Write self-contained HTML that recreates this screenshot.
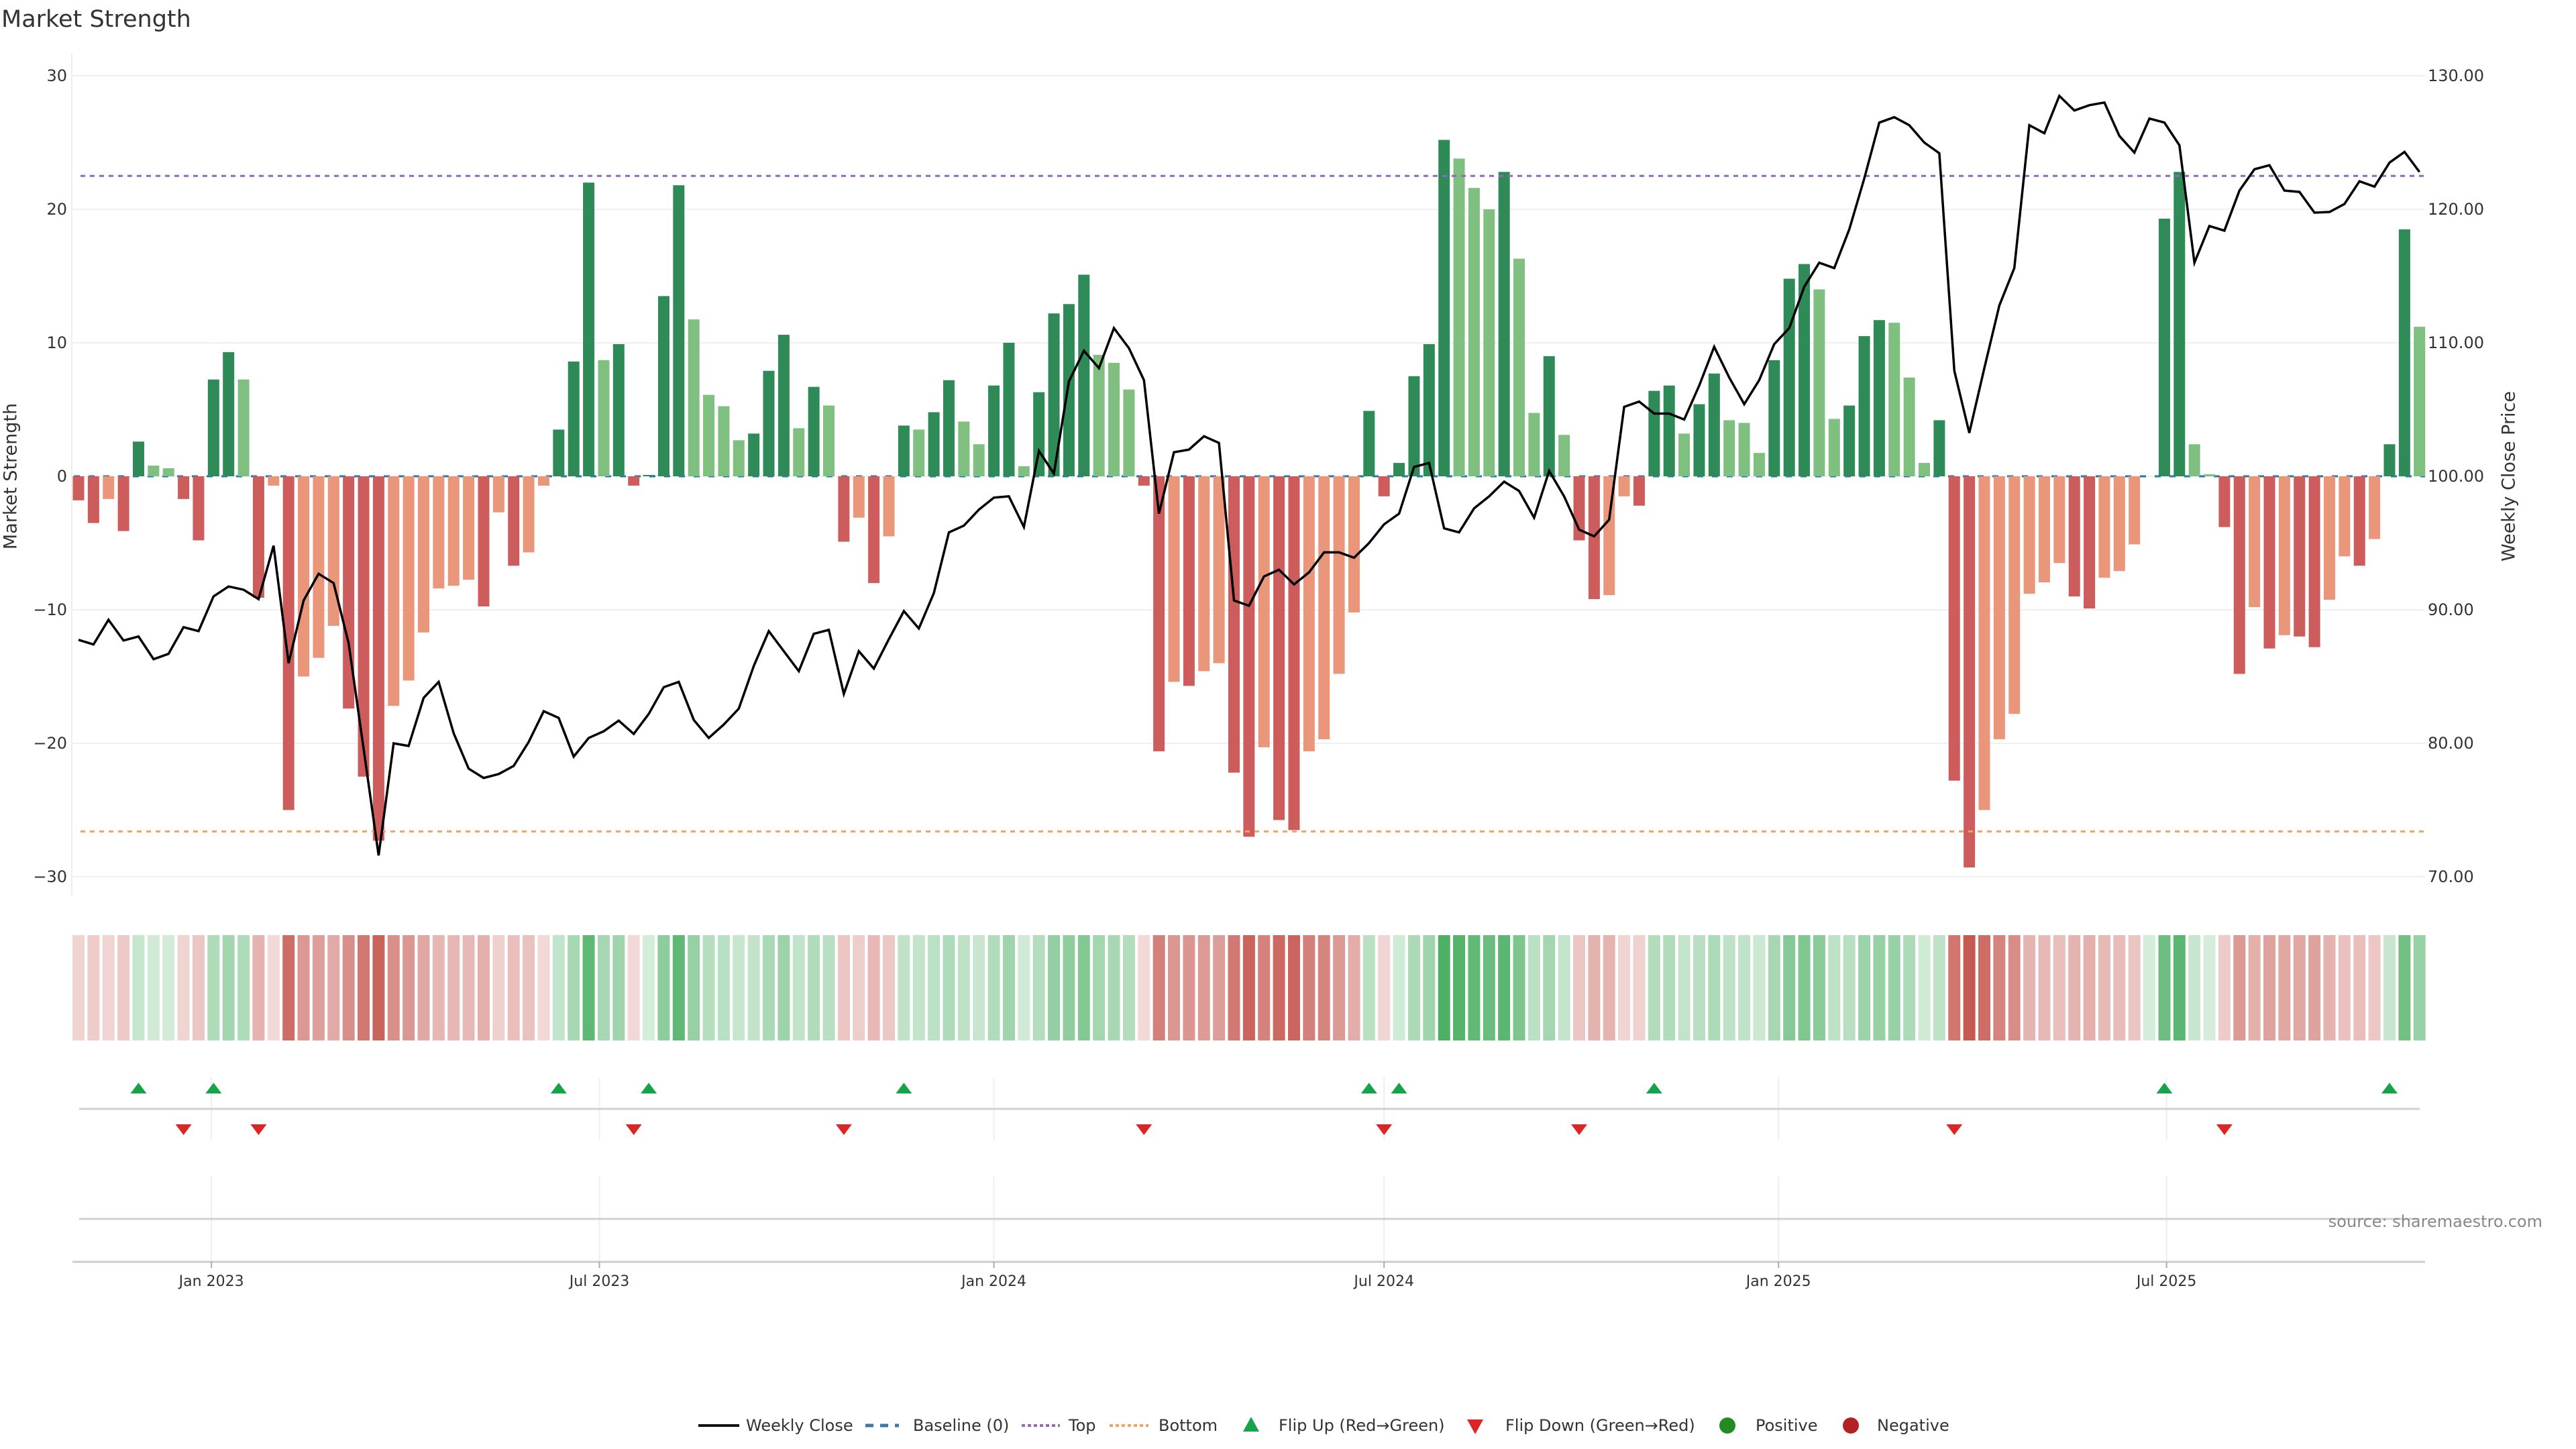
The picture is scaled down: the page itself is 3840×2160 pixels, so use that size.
<!DOCTYPE html>
<html><head><meta charset="utf-8"><title>Market Strength</title>
<style>
html,body{margin:0;padding:0;background:#fff;}
svg{display:block;font-family:"DejaVu Sans","Liberation Sans",sans-serif;}
</style></head>
<body>
<svg id="chart" xmlns="http://www.w3.org/2000/svg" width="3840" height="2160" viewBox="0 0 3840 2160">
<rect x="0" y="0" width="3840" height="2160" fill="#fff"/>
<text x="2" y="40" font-size="35" fill="#333">Market Strength</text>
<g id="main"></g>
<g id="heat"></g>
<g id="sig"></g>
<g id="xaxis"></g>
<text x="17" y="710" font-size="27" fill="#333" text-anchor="middle" transform="rotate(-90 17 710)" dominant-baseline="middle">Market Strength</text>
<text x="3741" y="710" font-size="27" fill="#333" text-anchor="middle" transform="rotate(-90 3741 710)" dominant-baseline="middle">Weekly Close Price</text>
<text x="3790" y="1829" font-size="24" fill="#888" text-anchor="end">source: sharemaestro.com</text>
<g id="legend"></g>
</svg>
<script>
const startDate = '2022-10-31';
const strength = [-1.8,-3.5,-1.7,-4.1,2.6,0.8,0.6,-1.7,-4.8,7.25,9.3,7.25,-9.1,-0.7,-25,-15,-13.6,-11.2,-17.4,-22.5,-27.3,-17.2,-15.3,-11.7,-8.4,-8.2,-7.75,-9.75,-2.7,-6.7,-5.7,-0.7,3.5,8.6,22,8.7,9.9,-0.7,0.1,13.5,
21.8,11.75,6.1,5.25,2.7,3.2,7.9,10.6,3.6,6.7,5.3,-4.9,-3.1,-8,-4.5,3.8,3.5,4.8,7.2,4.1,2.4,6.8,10,0.75,6.3,12.2,12.9,15.1,9.1,8.5,6.5,-0.7,-20.6,-15.4,-15.7,-14.6,-14,-22.2,-27,
-20.3,-25.75,-26.5,-20.6,-19.7,-14.8,-10.2,4.9,-1.5,1,7.5,9.9,25.2,23.8,21.6,20,22.8,16.3,4.75,9,3.1,-4.8,-9.2,-8.9,-1.5,-2.2,6.4,6.8,3.2,5.4,7.7,4.2,4,1.75,8.7,14.8,15.9,14,4.3,5.3,
10.5,11.7,11.5,7.4,1,4.2,-22.8,-29.3,-25,-19.7,-17.8,-8.8,-7.95,-6.5,-9,-9.9,-7.6,-7.1,-5.1,0,19.3,22.8,2.4,0.15,-3.8,-14.8,-9.8,-12.9,-11.9,-12,-12.8,-9.25,-6,-6.7,-4.7,2.4,18.5,11.2];
const weeklyClose = [87.75,87.4,89.25,87.7,88,86.3,86.7,88.7,88.4,91,91.75,91.5,90.8,94.8,86,90.7,92.7,92,87.5,79.6,71.6,80,79.8,83.4,84.6,80.75,78.1,77.4,77.7,78.3,80.1,82.4,81.9,79,80.4,80.9,81.7,80.7,82.2,84.2,
84.6,81.75,80.4,81.4,82.6,85.8,88.4,86.9,85.4,88.2,88.5,83.7,86.9,85.6,87.8,89.9,88.6,91.25,95.8,96.3,97.5,98.4,98.5,96.2,101.9,100.2,107.1,109.4,108.1,111.1,109.6,107.2,97.2,101.8,102,103,102.5,90.7,90.3,
92.5,93,91.9,92.8,94.3,94.3,93.9,95,96.4,97.2,100.7,101,96.1,95.8,97.6,98.5,99.6,98.9,96.9,100.4,98.5,96,95.5,96.75,105.2,105.6,104.7,104.7,104.25,106.8,109.7,107.4,105.4,107.2,109.9,111.1,114.2,116,115.6,118.5,
122.3,126.5,126.9,126.3,125,124.2,107.9,103.25,108.1,112.8,115.6,126.3,125.7,128.5,127.4,127.8,128,125.5,124.25,126.8,126.5,124.8,116,118.75,118.4,121.4,123,123.3,121.4,121.3,119.75,119.8,120.4,122.1,121.7,123.5,124.3,122.8];
const topLevel = 22.5;
const bottomLevel = -26.6;
const leftTicks = [30,20,10,0,-10,-20,-30];
const leftTickLabels = ['30','20','10','0','\u221210','\u221220','\u221230'];
const rightTicks = [130,120,110,100,90,80,70];
const rightTickLabels = ['130.00','120.00','110.00','100.00','90.00','80.00','70.00'];
const xTickDates = ['2023-01-01','2023-07-01','2024-01-01','2024-07-01','2025-01-01','2025-07-01'];
const xTickLabels = ['Jan 2023','Jul 2023','Jan 2024','Jul 2024','Jan 2025','Jul 2025'];

const NS='http://www.w3.org/2000/svg';
function mk(parent,tag,attrs){const e=document.createElementNS(NS,tag);for(const k in attrs)e.setAttribute(k,attrs[k]);parent.appendChild(e);return e;}
const X0=117, STEP=22.37, BW=17;
const xIdx=i=>X0+i*STEP;
const t0=Date.parse(startDate);
const xDate=d=>X0+(Date.parse(d)-t0)/86400000/7*STEP;
const Y0=710, YS=19.9;
const yS=v=>Y0-v*YS;
const yP=p=>Y0-(p-100)*YS;
const PL=107, PR=3615;

const main=document.getElementById('main');
let e=mk(main,'line',{x1:PL,y1:80,x2:PL,y2:1335,stroke:'#eee','stroke-width':2});


leftTicks.forEach((v,i)=>{
  const g=mk(main,'line',{x1:PL,y1:yS(v),x2:PR,y2:yS(v),stroke:'#eef0f2','stroke-width':2});
  
  
  const t=mk(main,'text',{x:100,y:yS(v)+8,'font-size':24,fill:'#333','text-anchor':'end'});
  t.textContent=leftTickLabels[i];
  
  
});
rightTicks.forEach((v,i)=>{
  const t=mk(main,'text',{x:3619,y:yP(v)+8,'font-size':24,fill:'#333'});
  t.textContent=rightTickLabels[i];
  
  
});
e=mk(main,'line',{x1:110,y1:Y0,x2:PR,y2:Y0,stroke:'#1f77b4','stroke-width':3,'stroke-dasharray':'9 13'});


strength.forEach((v,i)=>{
  const prev=i>0?strength[i-1]:0;
  const strong=(Math.sign(v)!==Math.sign(prev))||Math.abs(v)>Math.abs(prev);
  const col=v>=0?(strong?'#2e8b57':'#7fbf7f'):(strong?'#cd5c5c':'#e9967a');
  const y1=Math.min(yS(v),Y0), h=Math.abs(yS(v)-Y0);
  if(h<0.5)return;
  const r=mk(main,'rect',{x:xIdx(i)-BW/2,y:y1,width:BW,height:h,fill:col});
  
  
});
e=mk(main,'line',{x1:120,y1:yS(topLevel),x2:PR,y2:yS(topLevel),stroke:'#9467bd','stroke-width':3,'stroke-dasharray':'7 7'});


e=mk(main,'line',{x1:120,y1:yS(bottomLevel),x2:PR,y2:yS(bottomLevel),stroke:'#f4a460','stroke-width':3,'stroke-dasharray':'7 7'});


e=mk(main,'polyline',{points:weeklyClose.map((p,i)=>xIdx(i).toFixed(1)+','+yP(p).toFixed(1)).join(' '),fill:'none',stroke:'#000','stroke-width':3.5,'stroke-linejoin':'miter'});



const heat=document.getElementById('heat');
strength.forEach((v,i)=>{
  const a=0.2+0.75*Math.min(1,Math.abs(v)/30);
  const b=v>=0?[42,160,70]:[194,78,69];
  const c=b.map(k=>Math.round(255-(255-k)*a));
  const r=mk(heat,'rect',{x:xIdx(i)-9,y:1394,width:18,height:157,fill:'rgb('+c.join(',')+')'});
  
  
});

const sig=document.getElementById('sig');
xTickDates.forEach(d=>{
  const x=xDate(d);
  let g=mk(sig,'line',{x1:x,y1:1606,x2:x,y2:1700,stroke:'#eee','stroke-width':2});
  
  
  g=mk(sig,'line',{x1:x,y1:1753,x2:x,y2:1882,stroke:'#eee','stroke-width':2});
  
  
});
e=mk(sig,'line',{x1:118,y1:1653,x2:3607,y2:1653,stroke:'#d0d0d0','stroke-width':3});


e=mk(sig,'line',{x1:118,y1:1817,x2:3607,y2:1817,stroke:'#d0d0d0','stroke-width':3});


strength.forEach((v,i)=>{
  if(i===0)return;
  const p=strength[i-1], x=xIdx(i);
  if(v>0&&p<=0){
    const t=mk(sig,'polygon',{points:`${x-12},1630 ${x+12},1630 ${x},1614`,fill:'#16a34a'});
    
    
  } else if(v<0&&p>=0){
    const t=mk(sig,'polygon',{points:`${x-12},1676 ${x+12},1676 ${x},1692`,fill:'#dc2626'});
    
    
  }
});

const xa=document.getElementById('xaxis');
e=mk(xa,'line',{x1:108,y1:1881,x2:PR,y2:1881,stroke:'#ccc','stroke-width':3});


xTickDates.forEach((d,i)=>{
  const x=xDate(d);
  const tk=mk(xa,'line',{x1:x,y1:1881,x2:x,y2:1890,stroke:'#aaa','stroke-width':2});
  
  
  const t=mk(xa,'text',{x:x,y:1917,'font-size':22,fill:'#333','text-anchor':'middle'});
  t.textContent=xTickLabels[i];
  
  
});

const lg=document.getElementById('legend');
const LY=2125;
function ltext(x,s){const t=mk(lg,'text',{x:x,y:LY+8,'font-size':24,fill:'#333'});t.textContent=s;}
e=mk(lg,'line',{x1:1041,y1:LY,x2:1102,y2:LY,stroke:'#111','stroke-width':4});


ltext(1112,'Weekly Close');
e=mk(lg,'line',{x1:1290,y1:LY,x2:1340,y2:LY,stroke:'#3a78a8','stroke-width':5,'stroke-dasharray':'12 10'});


ltext(1361,'Baseline (0)');
e=mk(lg,'line',{x1:1523,y1:LY,x2:1580,y2:LY,stroke:'#9467bd','stroke-width':4,'stroke-dasharray':'5 4'});


ltext(1593,'Top');
e=mk(lg,'line',{x1:1654,y1:LY,x2:1712,y2:LY,stroke:'#f4a460','stroke-width':4,'stroke-dasharray':'5 4'});


ltext(1727,'Bottom');
e=mk(lg,'polygon',{points:'1853,2134 1877,2134 1865,2112',fill:'#16a34a'});


ltext(1906,'Flip Up (Red\u2192Green)');
e=mk(lg,'polygon',{points:'2187,2116 2211,2116 2199,2138',fill:'#dc2626'});


ltext(2244,'Flip Down (Green\u2192Red)');
e=mk(lg,'circle',{cx:2575,cy:LY,r:12,fill:'#228b22'});


ltext(2617,'Positive');
e=mk(lg,'circle',{cx:2759,cy:LY,r:12,fill:'#b22222'});


ltext(2798,'Negative');
</script>
</body></html>
